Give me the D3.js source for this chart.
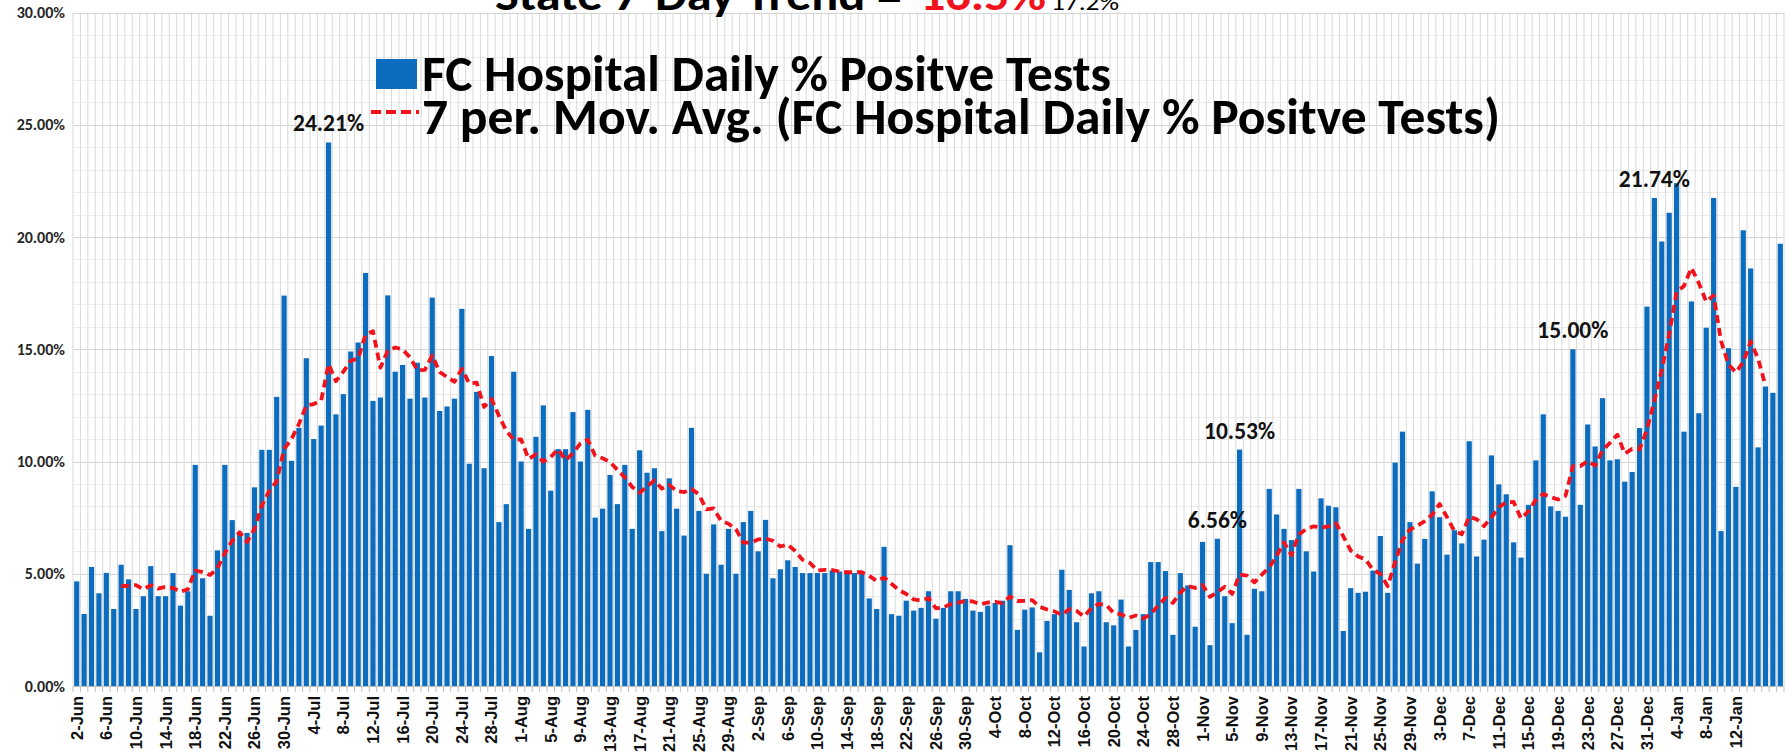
<!DOCTYPE html>
<html>
<head>
<meta charset="utf-8">
<script src="https://cdn.jsdelivr.net/npm/d3@7"></script>
<style>
  body { margin: 0; background: #fff; }
  #chart { width: 1787px; height: 753px; }
</style>
</head>
<body>
<div id="chart"></div>
<script>
(function() {
  "use strict";

  // One category per day, 2-Jun through 18-Jan.
  var dayFormat = d3.timeFormat("%-d-%b");
  var days = d3.timeDay.range(new Date(2020, 5, 2), new Date(2021, 0, 19)).map(dayFormat);

  // FC Hospital daily % positive tests (one per day).
  var positivePct = [
    4.66, 3.21, 5.30, 4.13, 5.04, 3.43, 5.40, 4.75, 3.43, 4.00,
    5.34, 4.00, 4.00, 5.03, 3.58, 4.22, 9.85, 4.80, 3.13, 6.04,
    9.85, 7.39, 6.87, 6.82, 8.85, 10.52, 10.52, 12.88, 17.39, 10.03,
    11.50, 14.60, 11.00, 11.60, 24.21, 12.10, 13.00, 14.90, 15.30, 18.40,
    12.70, 12.85, 17.40, 14.00, 14.30, 12.80, 14.40, 12.85, 17.30, 12.25,
    12.45, 12.80, 16.80, 9.90, 13.10, 9.70, 14.70, 7.30, 8.10, 14.00,
    10.00, 7.00, 11.10, 12.50, 8.70, 10.55, 10.55, 12.20, 10.00, 12.30,
    7.50, 7.90, 9.40, 8.10, 9.85, 7.00, 10.50, 9.50, 9.70, 6.90,
    9.25, 7.90, 6.70, 11.50, 7.80, 5.00, 7.20, 5.40, 7.00, 5.00,
    7.30, 7.80, 6.00, 7.40, 4.80, 5.20, 5.60, 5.30, 5.03, 5.03,
    5.03, 5.03, 5.15, 5.10, 5.10, 5.03, 5.03, 3.90, 3.43, 6.20,
    3.20, 3.13, 3.80, 3.36, 3.48, 4.22, 3.00, 3.48, 4.22, 4.22,
    3.88, 3.36, 3.30, 3.58, 3.70, 3.80, 6.27, 2.50, 3.40, 3.50,
    1.50, 2.90, 3.20, 5.18, 4.28, 2.84, 1.76, 4.13, 4.22, 2.84,
    2.70, 3.85, 1.76, 2.50, 3.20, 5.52, 5.52, 5.12, 2.28, 5.03,
    4.48, 2.64, 6.42, 1.82, 6.56, 4.00, 2.80, 10.53, 2.28, 4.33,
    4.22, 8.78, 7.64, 7.00, 6.50, 8.78, 6.00, 5.10, 8.36, 8.03,
    7.96, 2.45, 4.36, 4.15, 4.20, 5.14, 6.68, 4.15, 9.95, 11.33,
    7.30, 5.45, 6.55, 8.67, 7.52, 5.85, 6.94, 6.35, 10.90, 5.77,
    6.52, 10.27, 8.98, 8.54, 6.40, 5.72, 8.07, 10.05, 12.10, 8.00,
    7.80, 7.54, 15.00, 8.07, 11.65, 10.67, 12.82, 10.05, 10.10, 9.10,
    9.53, 11.49, 16.90, 21.74, 19.80, 21.08, 22.40, 11.33, 17.13, 12.15,
    15.96, 21.74, 6.90, 15.05, 8.87, 20.30, 18.60, 10.63, 13.34, 13.06,
    19.70
  ];

  var tickLabels = [
    "2-Jun", "6-Jun", "10-Jun", "14-Jun", "18-Jun", "22-Jun", "26-Jun", "30-Jun",
    "4-Jul", "8-Jul", "12-Jul", "16-Jul", "20-Jul", "24-Jul", "28-Jul",
    "1-Aug", "5-Aug", "9-Aug", "13-Aug", "17-Aug", "21-Aug", "25-Aug", "29-Aug",
    "2-Sep", "6-Sep", "10-Sep", "14-Sep", "18-Sep", "22-Sep", "26-Sep", "30-Sep",
    "4-Oct", "8-Oct", "12-Oct", "16-Oct", "20-Oct", "24-Oct", "28-Oct",
    "1-Nov", "5-Nov", "9-Nov", "13-Nov", "17-Nov", "21-Nov", "25-Nov", "29-Nov",
    "3-Dec", "7-Dec", "11-Dec", "15-Dec", "19-Dec", "23-Dec", "27-Dec", "31-Dec",
    "4-Jan", "8-Jan", "12-Jan"
  ];
  var yTicks = [0, 5, 10, 15, 20, 25, 30];

  var labeledDays = ["6-Jul", "3-Nov", "6-Nov", "21-Dec", "1-Jan"];
  var maPeriod = 7;
  var maLastDay = "16-Jan"; // the trendline stops here in the original

  var seriesName = "FC Hospital Daily % Positve Tests";
  var trendName = "7 per. Mov. Avg. (FC Hospital Daily % Positve Tests)";
  var titleMain = "State 7-Day Trend =";
  var titleValue = "16.5%";
  var titlePrev = "17.2%";

  var width = 1787, height = 753;
  var plot = { left: 73, right: 1784, top: 12.5, bottom: 686 };
  var blue = "#0c6dbf";
  var red = "#f2121b";
  var labelFont = "Carlito, Lato, 'Open Sans', sans-serif";

  var svg = d3.select("#chart")
    .append("svg")
    .attr("width", width)
    .attr("height", height)
    .style("background", "#fff");

  var x = d3.scaleBand()
    .domain(days)
    .range([plot.left, plot.right])
    .paddingInner(0.3)
    .paddingOuter(0.15);

  var y = d3.scaleLinear()
    .domain([0, 30])
    .range([plot.bottom, plot.top]);

  var step = x.step();
  var gap = (step - x.bandwidth()) / 2;
  var boundaries = days.map(function(d) { return x(d) - gap; });
  boundaries.push(plot.right);

  /* ------- GRID -------*/

  var grid = svg.append("g").attr("class", "grid");

  grid.selectAll("line.minor")
    .data(d3.range(0, 31).filter(function(v) { return v % 5 !== 0; }))
    .enter()
    .append("line")
    .attr("class", "minor")
    .attr("x1", plot.left).attr("x2", plot.right)
    .attr("y1", function(v) { return Math.round(y(v)) + 0.5; })
    .attr("y2", function(v) { return Math.round(y(v)) + 0.5; })
    .attr("stroke", "#ececec");

  grid.selectAll("line.vert")
    .data(boundaries)
    .enter()
    .append("line")
    .attr("class", "vert")
    .attr("x1", function(b) { return b; })
    .attr("x2", function(b) { return b; })
    .attr("y1", plot.top)
    .attr("y2", plot.bottom)
    .attr("stroke", "#d9d9d9");

  grid.selectAll("line.major")
    .data(yTicks.slice(1))
    .enter()
    .append("line")
    .attr("class", "major")
    .attr("x1", plot.left).attr("x2", plot.right)
    .attr("y1", function(v) { return Math.round(y(v)) + 0.5; })
    .attr("y2", function(v) { return Math.round(y(v)) + 0.5; })
    .attr("stroke", "#d4d4d4");

  /* ------- BARS -------*/

  svg.append("g")
    .attr("class", "bars")
    .selectAll("rect")
    .data(positivePct)
    .enter()
    .append("rect")
    .attr("x", function(v, i) { return x(days[i]); })
    .attr("width", x.bandwidth())
    .attr("y", function(v) { return y(v); })
    .attr("height", function(v) { return y(0) - y(v); })
    .attr("fill", blue);

  /* ------- AXES -------*/

  var xAxis = svg.append("g")
    .attr("class", "x-axis")
    .attr("transform", "translate(0," + plot.bottom + ")");

  xAxis.append("line")
    .attr("x1", plot.left).attr("x2", plot.right)
    .attr("y1", 0.5).attr("y2", 0.5)
    .attr("stroke", "#bfbfbf");

  xAxis.selectAll("line.tick")
    .data(boundaries)
    .enter()
    .append("line")
    .attr("class", "tick")
    .attr("x1", function(b) { return b; })
    .attr("x2", function(b) { return b; })
    .attr("y1", 0)
    .attr("y2", 6)
    .attr("stroke", "#bfbfbf");

  xAxis.selectAll("text")
    .data(tickLabels)
    .enter()
    .append("text")
    .attr("transform", function(d) {
      return "translate(" + (x(d) + x.bandwidth() / 2) + ",10) rotate(-90)";
    })
    .attr("dy", "0.36em")
    .attr("text-anchor", "end")
    .attr("font-family", "'Liberation Sans', Arial, sans-serif")
    .attr("font-weight", "bold")
    .attr("font-size", 16.5)
    .attr("fill", "#111")
    .text(function(d) { return d; });

  var yAxis = svg.append("g")
    .attr("class", "y-axis")
    .attr("transform", "translate(68,0)")
    .call(d3.axisLeft(y)
      .tickValues(yTicks)
      .tickSize(0)
      .tickPadding(3)
      .tickFormat(function(v) { return v.toFixed(2) + "%"; }));

  yAxis.select(".domain").remove();
  yAxis.selectAll(".tick text")
    .style("font-family", labelFont)
    .style("font-weight", "bold")
    .style("font-size", "16px")
    .attr("fill", "#262626");

  /* ------- 7 PERIOD MOVING AVERAGE -------*/

  // Same trendline the original chart draws: mean of the last 7 days.
  var lastIdx = days.indexOf(maLastDay);
  var maPoints = d3.range(maPeriod - 1, lastIdx + 1).map(function(i) {
    return [i, d3.mean(positivePct.slice(i - maPeriod + 1, i + 1))];
  });

  var maLine = d3.line()
    .x(function(p) { return x(days[p[0]]) + x.bandwidth() / 2; })
    .y(function(p) { return y(p[1]); });

  svg.append("path")
    .attr("class", "moving-average")
    .attr("d", maLine(maPoints))
    .attr("fill", "none")
    .attr("stroke", red)
    .attr("stroke-width", 3.8)
    .attr("stroke-dasharray", "8,5")
    .attr("stroke-linejoin", "round");

  /* ------- DATA LABELS -------*/

  svg.append("g")
    .attr("class", "data-labels")
    .selectAll("text")
    .data(labeledDays)
    .enter()
    .append("text")
    .attr("x", function(d) { return x(d) + x.bandwidth() / 2; })
    .attr("y", function(d) { return y(positivePct[days.indexOf(d)]) - 11; })
    .attr("text-anchor", "middle")
    .attr("font-family", labelFont)
    .attr("font-weight", "bold")
    .attr("font-size", 23.5)
    .attr("fill", "#111")
    .text(function(d) { return positivePct[days.indexOf(d)].toFixed(2) + "%"; });

  /* ------- LEGEND -------*/

  var legend = svg.append("g").attr("class", "legend");

  legend.append("rect")
    .attr("x", 376).attr("y", 59)
    .attr("width", 41).attr("height", 30)
    .attr("fill", blue);

  legend.append("text")
    .attr("x", 422).attr("y", 91)
    .attr("font-family", labelFont)
    .attr("font-weight", "bold")
    .attr("font-size", 51)
    .attr("textLength", 689)
    .attr("lengthAdjust", "spacingAndGlyphs")
    .attr("fill", "#000")
    .text(seriesName);

  legend.append("line")
    .attr("x1", 371).attr("x2", 419)
    .attr("y1", 112).attr("y2", 112)
    .attr("stroke", red)
    .attr("stroke-width", 4)
    .attr("stroke-dasharray", "10,5");

  legend.append("text")
    .attr("x", 422).attr("y", 134)
    .attr("font-family", labelFont)
    .attr("font-weight", "bold")
    .attr("font-size", 51)
    .attr("textLength", 1078)
    .attr("lengthAdjust", "spacingAndGlyphs")
    .attr("fill", "#000")
    .text(trendName);

  /* ------- TITLE (cut off at the top edge) -------*/

  var title = svg.append("g").attr("class", "title")
    .attr("font-family", labelFont)
    .attr("font-weight", "bold");

  title.append("text")
    .attr("x", 495).attr("y", 9.5)
    .attr("font-size", 44)
    .attr("textLength", 407)
    .attr("lengthAdjust", "spacingAndGlyphs")
    .attr("fill", "#000")
    .text(titleMain);

  title.append("text")
    .attr("x", 920).attr("y", 9.5)
    .attr("font-size", 44)
    .attr("textLength", 126)
    .attr("lengthAdjust", "spacingAndGlyphs")
    .attr("fill", red)
    .text(titleValue);

  title.append("text")
    .attr("x", 1051).attr("y", 10)
    .attr("font-size", 22)
    .attr("font-weight", "normal")
    .attr("textLength", 68)
    .attr("lengthAdjust", "spacingAndGlyphs")
    .attr("fill", "#000")
    .text(titlePrev);
})();
</script>
</body>
</html>
